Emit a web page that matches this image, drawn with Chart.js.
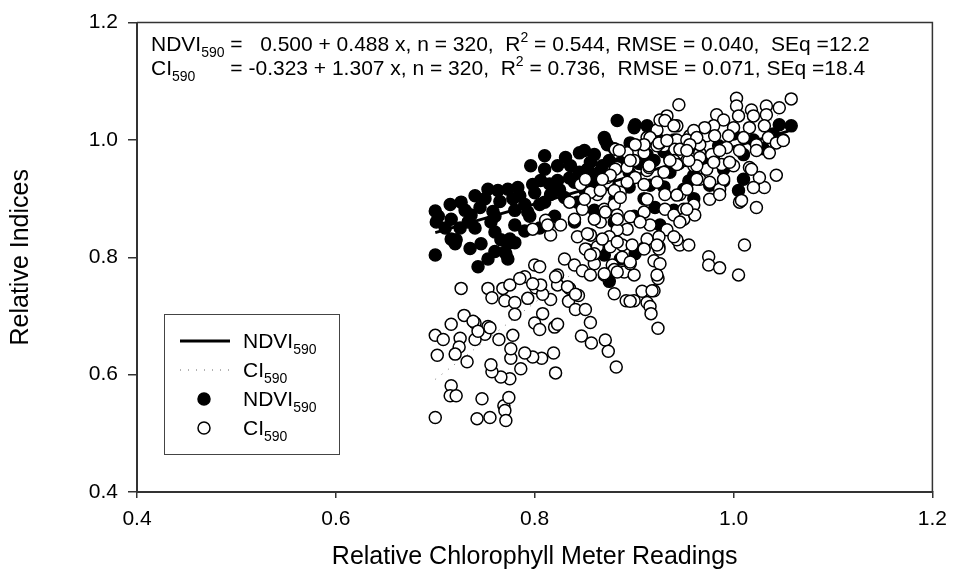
<!DOCTYPE html>
<html>
<head>
<meta charset="utf-8">
<script src="https://cdn.jsdelivr.net/npm/chart.js@4.4.1/dist/chart.umd.min.js"></script>
<style>
  html, body { margin: 0; padding: 0; background: #fff; }
  #wrap { width: 956px; height: 572px; }
</style>
</head>
<body>
<div id="wrap"><canvas id="chart" width="956" height="572"></canvas></div>
<script>
// tick labels
const xTicks = [0.4, 0.6, 0.8, 1.0, 1.2];
const yTicks = [0.4, 0.6, 0.8, 1.0, 1.2];

// fitted lines (end points)
const ndviFit = [[0.700, 0.842], [1.055, 1.015]];
const ciFit = [[0.700, 0.592], [1.055, 1.056]];

// NDVI590 readings (filled circles)
const ndviPoints = [
  [0.700,0.804],[0.700,0.879],[0.701,0.860],[0.703,0.870],[0.715,0.890],[0.716,0.865],[0.716,0.831],[0.721,0.830],
  [0.720,0.823],[0.726,0.894],[0.730,0.880],[0.733,0.860],[0.736,0.872],[0.743,0.784],[0.746,0.823],[0.753,0.916],
  [0.750,0.900],[0.756,0.860],[0.758,0.878],[0.763,0.914],[0.760,0.843],[0.766,0.830],[0.775,0.831],[0.771,0.806],
  [0.773,0.797],[0.770,0.809],[0.753,0.797],[0.773,0.823],[0.773,0.916],[0.783,0.919],[0.778,0.900],[0.790,0.890],
  [0.793,0.877],[0.796,0.956],[0.798,0.924],[0.806,0.931],[0.810,0.973],[0.810,0.950],[0.810,0.894],[0.816,0.907],
  [0.823,0.931],[0.823,0.956],[0.831,0.970],[0.836,0.956],[0.840,0.928],[0.830,0.902],[0.843,0.894],[0.845,0.978],
  [0.850,0.982],[0.853,0.950],[0.856,0.962],[0.860,0.975],[0.868,0.956],[0.870,1.004],[0.871,0.999],[0.873,0.992],
  [0.875,0.924],[0.881,0.899],[0.883,1.033],[0.896,0.995],[0.900,1.021],[0.901,1.026],[0.913,1.024],[0.913,0.975],
  [0.916,0.923],[0.921,0.885],[0.926,0.855],[0.923,0.995],[0.925,1.000],[0.936,0.945],[0.950,0.916],[0.976,0.923],
  [0.980,0.973],[0.870,0.804],[0.901,0.806],[0.875,0.759],[0.886,0.797],[1.005,0.914],[1.010,0.933],[1.046,1.026],
  [1.058,1.024],[0.740,0.905],[0.745,0.885],[0.765,0.895],[0.780,0.880],[0.785,0.905],[0.800,0.910],[0.795,0.870],
  [0.805,0.890],[0.815,0.925],[0.825,0.915],[0.835,0.935],[0.845,0.945],[0.850,0.915],[0.855,0.935],[0.860,0.925],
  [0.865,0.945],[0.875,0.965],[0.880,0.985],[0.885,0.960],[0.890,0.975],[0.895,0.945],[0.905,0.960],[0.910,0.990],
  [0.920,0.965],[0.930,0.980],[0.940,1.000],[0.945,0.960],[0.955,0.985],[0.960,0.940],[0.965,1.010],[0.970,0.960],
  [0.985,0.990],[0.990,0.950],[1.000,1.010],[1.010,0.975],[1.020,1.000],[1.030,0.985],[1.040,1.010],[1.050,1.000],
  [0.990,0.930],[0.960,0.900],[0.940,0.880],[0.900,0.870],[0.880,0.860],[0.860,0.880],[0.840,0.860],[0.820,0.870],
  [0.805,0.850],[0.790,0.845],[0.780,0.855],[0.760,0.870],[0.740,0.850],[0.725,0.850],[0.710,0.850],[0.735,0.815],
  [0.760,0.810],[0.780,0.825],[0.895,0.920],[0.910,0.900],[0.930,0.920],[0.955,0.930]
];

// CI590 readings (open circles)
const ciPoints = [
  [0.726,0.747],[0.753,0.747],[0.768,0.747],[0.757,0.731],[0.770,0.726],[0.780,0.723],[0.793,0.730],[0.780,0.703],
  [0.808,0.704],[0.800,0.688],[0.805,0.677],[0.820,0.681],[0.816,0.728],[0.834,0.725],[0.841,0.711],[0.851,0.711],
  [0.856,0.689],[0.847,0.666],[0.857,0.654],[0.871,0.659],[0.874,0.640],[0.882,0.613],[0.821,0.603],[0.819,0.637],
  [0.807,0.628],[0.798,0.630],[0.790,0.637],[0.776,0.628],[0.776,0.644],[0.786,0.610],[0.775,0.593],[0.766,0.596],
  [0.757,0.605],[0.756,0.617],[0.778,0.667],[0.764,0.660],[0.750,0.669],[0.753,0.682],[0.740,0.688],[0.729,0.701],
  [0.716,0.686],[0.700,0.667],[0.708,0.660],[0.725,0.662],[0.740,0.660],[0.724,0.647],[0.720,0.635],[0.702,0.633],
  [0.732,0.622],[0.716,0.581],[0.715,0.564],[0.721,0.564],[0.747,0.559],[0.769,0.547],[0.774,0.561],[0.770,0.539],
  [0.771,0.522],[0.755,0.527],[0.742,0.525],[0.700,0.527],[0.892,0.726],[0.900,0.726],[0.908,0.742],[0.920,0.743],
  [0.913,0.723],[0.916,0.716],[0.917,0.704],[0.924,0.679],[0.835,0.747],[0.844,0.735],[0.801,0.748],[0.808,0.737],
  [0.823,0.753],[0.755,0.680],[0.975,0.801],[0.975,0.787],[0.830,0.797],[0.840,0.787],[0.848,0.777],[0.860,0.789],
  [0.870,0.770],[0.878,0.787],[0.890,0.775],[0.900,0.770],[0.896,0.789],[0.920,0.794],[0.926,0.789],[0.924,0.764],
  [0.918,0.743],[0.853,0.813],[0.863,0.818],[0.888,0.821],[0.898,0.821],[0.910,0.816],[0.925,0.818],[0.946,0.821],
  [0.955,0.821],[0.843,0.835],[0.856,0.838],[0.823,0.770],[0.833,0.750],[0.841,0.737],[0.823,0.686],[0.790,0.767],
  [0.800,0.787],[0.805,0.784],[0.806,0.753],[0.821,0.767],[0.775,0.753],[0.785,0.764],[0.798,0.755],[0.738,0.691],
  [0.743,0.674],[0.811,0.863],[0.816,0.838],[0.826,0.855],[0.798,0.848],[0.835,0.894],[0.848,0.882],[0.851,0.931],
  [0.863,0.907],[0.866,0.860],[0.856,0.838],[0.851,0.814],[0.870,0.882],[0.873,0.928],[0.883,0.953],[0.881,0.984],
  [0.893,0.953],[0.901,0.936],[0.886,0.911],[0.880,0.890],[0.883,0.872],[0.896,0.869],[0.893,0.848],[0.883,0.847],
  [0.875,0.835],[0.876,0.818],[0.888,0.800],[0.896,0.792],[0.880,0.779],[0.870,0.772],[0.856,0.770],[0.860,0.806],
  [0.913,0.831],[0.916,0.855],[0.910,0.877],[0.913,0.899],[0.913,0.948],[0.923,0.928],[0.931,0.907],[0.931,0.882],
  [0.940,0.872],[0.946,0.907],[0.950,0.882],[0.933,0.847],[0.943,0.830],[0.925,0.814],[0.896,0.725],[0.880,0.738],
  [0.936,0.967],[0.946,0.978],[0.960,0.956],[0.966,0.933],[0.966,0.978],[0.973,1.007],[0.956,1.007],[0.943,1.000],
  [0.930,0.990],[0.913,1.004],[0.923,1.017],[0.976,0.899],[0.846,0.924],[0.856,0.911],[0.840,0.865],[0.813,0.855],
  [0.945,1.060],[1.003,1.071],[1.003,1.058],[1.018,1.051],[1.033,1.058],[1.020,1.041],[1.033,1.043],[1.005,1.041],
  [0.983,1.043],[0.990,1.034],[0.980,1.024],[1.000,1.021],[1.016,1.021],[1.031,1.024],[1.035,1.004],[1.023,0.992],
  [1.010,1.004],[0.995,1.007],[0.981,1.007],[0.971,1.021],[0.960,1.016],[0.953,1.000],[0.966,0.992],[0.943,1.024],
  [0.933,1.041],[0.926,1.034],[0.941,0.984],[0.926,0.995],[0.916,1.004],[0.923,0.990],[0.910,0.978],[0.915,0.953],
  [0.893,0.978],[0.900,0.965],[0.881,0.950],[0.873,0.936],[0.850,0.899],[0.866,0.914],[0.880,0.914],[0.886,0.902],
  [0.893,0.928],[0.910,0.924],[0.930,0.945],[0.940,0.965],[0.953,0.965],[0.966,0.970],[0.978,0.975],[0.993,0.987],
  [1.006,0.982],[1.016,0.953],[1.000,0.956],[0.988,0.958],[0.973,0.950],[0.963,0.933],[0.976,0.928],[0.986,0.916],
  [1.006,0.894],[1.023,0.885],[1.031,0.919],[1.026,0.936],[0.953,0.916],[0.943,0.906],[0.960,0.889],[0.950,0.865],
  [0.940,0.835],[0.925,0.835],[0.906,0.860],[0.883,0.865],[0.871,0.877],[0.860,0.865],[0.853,0.840],[0.868,0.831],
  [0.883,0.826],[0.910,0.814],[0.923,0.821],[1.011,0.821],[0.986,0.782],[1.005,0.770],[0.923,0.770],[0.856,0.804],
  [0.883,0.775],[1.058,1.070],[1.046,1.055],[1.043,0.995],[1.050,0.999],[1.043,0.940],[1.023,0.982],[1.018,0.950],
  [1.036,0.978],[1.020,0.919],[1.008,0.897],[0.961,0.872],[0.953,0.882],[0.946,0.860],[0.986,0.907],[0.990,0.933],
  [0.996,0.962],[0.980,0.962],[0.963,0.956],[0.986,0.982],[0.963,1.004],[0.956,0.992],[0.955,0.965],[0.946,0.984],
  [0.931,1.033],[0.940,1.024],[0.910,0.992],[0.925,0.995],[0.933,0.999],[0.901,0.992],[0.885,0.982],[0.896,0.965],
  [0.953,0.982],[0.943,0.958],[0.936,0.965],[0.915,0.956],[0.876,0.940],[0.851,0.933],[0.868,0.933]
];

const FONT = 'Liberation Sans, Arial, sans-serif';
const toXY = arr => arr.map(p => ({ x: p[0], y: p[1] }));

// text made of pieces: [text, 'n'|'sub'|'sup'], optional fixed x per piece; returns x after each piece
function drawRich(ctx, x, y, parts, size) {
  const ends = [];
  parts.forEach(([t, kind, at]) => {
    if (at !== undefined) x = at;
    const s = kind === 'n' ? size : Math.round(size * 0.66);
    const dy = kind === 'sub' ? size * 0.3 : kind === 'sup' ? -size * 0.45 : 0;
    ctx.font = s + 'px ' + FONT;
    ctx.fillText(t, x, y + dy);
    x += ctx.measureText(t).width;
    ends.push(x);
  });
  return ends;
}

const extras = {
  id: 'extras',
  afterDraw(chart) {
    const ctx = chart.ctx;
    const a = chart.chartArea;
    ctx.save();
    // top and right frame
    ctx.strokeStyle = '#333';
    ctx.lineWidth = 1.5;
    ctx.beginPath();
    ctx.moveTo(a.left, a.top);
    ctx.lineTo(a.right, a.top);
    ctx.lineTo(a.right, a.bottom);
    ctx.stroke();

    // equations
    ctx.fillStyle = '#000';
    ctx.textBaseline = 'alphabetic';
    ctx.textAlign = 'left';
    const e1 = drawRich(ctx, 151, 51, [['NDVI', 'n'], ['590', 'sub'], [' =   0.500 + 0.488 x, n = 320,  R', 'n'], ['2', 'sup'],
      [' = 0.544, RMSE = 0.040,  SEq =12.2', 'n']], 21);
    ctx.font = '21px ' + FONT;
    const eqX = e1[1] + ctx.measureText(' ').width;
    drawRich(ctx, 151, 75, [['CI', 'n'], ['590', 'sub'], ['= -0.323 + 1.307 x, n = 320,  R', 'n', eqX], ['2', 'sup'],
      [' = 0.736,  RMSE = 0.071, SEq =18.4', 'n']], 21);

    // legend box
    ctx.strokeStyle = '#444';
    ctx.lineWidth = 1;
    ctx.strokeRect(164.5, 314.5, 175, 140);
    ctx.strokeStyle = '#000';
    ctx.lineWidth = 3;
    ctx.beginPath(); ctx.moveTo(180, 341); ctx.lineTo(230, 341); ctx.stroke();
    ctx.lineWidth = 1;
    ctx.strokeStyle = '#666';
    ctx.setLineDash([1, 7]);
    ctx.beginPath(); ctx.moveTo(180, 370); ctx.lineTo(232, 370); ctx.stroke();
    ctx.setLineDash([]);
    ctx.fillStyle = '#000';
    ctx.strokeStyle = '#000';
    ctx.lineWidth = 1.5;
    ctx.beginPath(); ctx.arc(204, 399, 6, 0, Math.PI * 2); ctx.fill(); ctx.stroke();
    ctx.fillStyle = '#fff';
    ctx.beginPath(); ctx.arc(204, 428, 6, 0, Math.PI * 2); ctx.fill(); ctx.stroke();
    ctx.fillStyle = '#000';
    const labels = [['NDVI', 341], ['CI', 370], ['NDVI', 399], ['CI', 428]];
    labels.forEach(([t, y]) => drawRich(ctx, 243, y + 7, [[t, 'n'], ['590', 'sub']], 21));
    ctx.restore();
  }
};

const axisCommon = {
  type: 'linear',
  min: 0.4,
  max: 1.2,
  ticks: {
    color: '#000',
    font: { family: FONT, size: 21 },
    callback: v => v.toFixed(1)
  },
  border: { display: true, color: '#333', width: 2 },
  title: { display: true, color: '#000', font: { family: FONT, size: 25 } }
};

new Chart(document.getElementById('chart'), {
  type: 'scatter',
  data: {
    datasets: [
      {
        label: 'CI590',
        data: toXY(ciPoints),
        backgroundColor: '#fff',
        borderColor: '#000',
        borderWidth: 1.5,
        pointRadius: 6,
        order: 0
      },
      {
        label: 'NDVI590',
        data: toXY(ndviPoints),
        backgroundColor: '#000',
        borderColor: '#000',
        borderWidth: 1.5,
        pointRadius: 6,
        order: 1
      },
      {
        type: 'line',
        label: 'NDVI590 fit',
        data: toXY(ndviFit),
        borderColor: '#000',
        borderWidth: 3,
        pointRadius: 0,
        order: 2
      },
      {
        type: 'line',
        label: 'CI590 fit',
        data: toXY(ciFit),
        borderColor: '#777',
        borderWidth: 1,
        borderDash: [1, 7],
        pointRadius: 0,
        order: 3
      }
    ]
  },
  options: {
    responsive: false,
    animation: false,
    devicePixelRatio: 1,
    layout: { padding: { top: 19, right: 19, left: 0, bottom: 0 } },
    plugins: { legend: { display: false }, tooltip: { enabled: false } },
    scales: {
      x: {
        ...axisCommon,
        position: 'bottom',
        grid: { drawOnChartArea: false, drawTicks: true, tickLength: 6, color: '#333', lineWidth: 1.5 },
        ticks: { ...axisCommon.ticks, padding: 9 },
        title: { ...axisCommon.title, text: 'Relative Chlorophyll Meter Readings', padding: { top: 0, bottom: 0 } },
        afterBuildTicks: s => { s.ticks = xTicks.map(v => ({ value: v })); },
        afterFit: s => { s.height = 80; }
      },
      y: {
        ...axisCommon,
        position: 'left',
        grid: { drawOnChartArea: false, drawTicks: true, tickLength: 9, color: '#333', lineWidth: 1.5 },
        ticks: { ...axisCommon.ticks, padding: 10 },
        title: { ...axisCommon.title, text: 'Relative Indices', padding: { top: 6, bottom: 0 } },
        afterBuildTicks: s => { s.ticks = yTicks.map(v => ({ value: v })); },
        afterFit: s => { s.width = 137; }
      }
    }
  },
  plugins: [extras]
});
</script>
</body>
</html>
